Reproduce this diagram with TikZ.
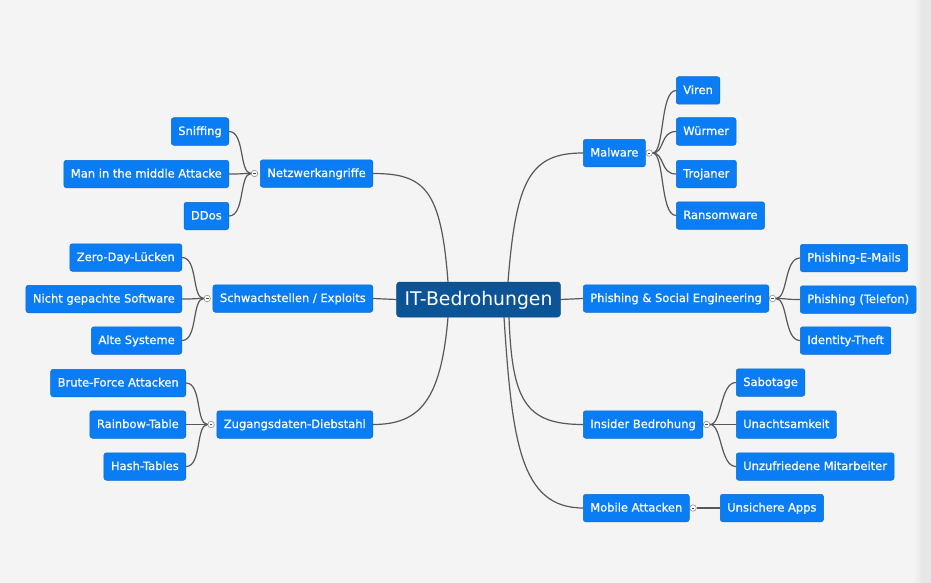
\documentclass[tikz,border=0pt]{standalone}
\usepackage{fontspec}
\setmainfont{DejaVu Sans}
\newfontfamily\topicfont{DejaVu Sans}[FakeBold=0.6]
\usetikzlibrary{positioning}
\definecolor{bgcol}{RGB}{244,244,244}
\definecolor{stripcol}{RGB}{231,231,231}
\definecolor{subblue}{RGB}{10,125,245}
\definecolor{rootblue}{RGB}{12,84,150}
\definecolor{linecol}{RGB}{88,88,88}

\begin{document}
\begin{tikzpicture}[x=1pt,y=-1pt,
  root/.style={rectangle,rounded corners=3pt,fill=rootblue,draw=rootblue!85!black,line width=0.5pt,text=white,minimum height=35pt,inner xsep=8pt,text height=13.7pt,text depth=2.5pt,font=\fontsize{18.8}{20}\selectfont},
  topic/.style={rectangle,rounded corners=2.5pt,fill=subblue,draw=subblue!85!black,line width=0.5pt,text=white,minimum height=27.5pt,inner xsep=7pt,text height=8.5pt,text depth=1.5pt,font=\topicfont\fontsize{11.5}{13}\selectfont},
  fold/.style={circle,draw=gray,fill=white,line width=0.5pt,minimum size=6.5pt,inner sep=0pt,path picture={\draw[line width=0.6pt,black!70] ([xshift=-1.3pt]path picture bounding box.center) -- ([xshift=1.3pt]path picture bounding box.center);}},
  link/.style={draw=linecol,line width=1.2pt}]

% background
\fill[bgcol] (0,0) rectangle (931,583);
\shade[left color=bgcol,right color=stripcol] (914,0) rectangle (922,583);
\fill[stripcol] (922,0) rectangle (931,583);

% draw central topic
\node[root] (root) at (478.5,299.5) {IT-Bedrohungen};

% draw main topics
\node[topic,anchor=west] (mal) at (583,153) {Malware};
\node[topic,anchor=west] (phi) at (583,298.5) {Phishing \& Social Engineering};
\node[topic,anchor=west] (ins) at (583,424.5) {Insider Bedrohung};
\node[topic,anchor=west] (mob) at (583,508) {Mobile Attacken};
\node[topic,anchor=east] (net) at (373,173.5) {Netzwerkangriffe};
\node[topic,anchor=east] (sch) at (373,298.5) {Schwachstellen / Exploits};
\node[topic,anchor=east] (zug) at (373,424.5) {Zugangsdaten-Diebstahl};

% draw fold markers
\node[fold,right=0pt of mal] (malf) {};
\node[fold,right=0pt of phi] (phif) {};
\node[fold,right=0pt of ins] (insf) {};
\node[fold,right=0pt of mob] (mobf) {};
\node[fold,left=2pt of net] (netf) {};
\node[fold,left=2pt of sch] (schf) {};
\node[fold,left=2pt of zug] (zugf) {};

% draw subtopics right
\foreach \t/\y [count=\i] in {Viren/90.5,Würmer/131.5,Trojaner/174,Ransomware/215.5}
{
  \node[topic,anchor=west] (mal\i) at (676,\y) {\t};
}
\foreach \t/\y [count=\i] in {Phishing-E-Mails/258,Phishing (Telefon)/299.5,Identity-Theft/340.5}
{
  \node[topic,anchor=west] (phi\i) at (800,\y) {\t};
}
\foreach \t/\y [count=\i] in {Sabotage/382.5,Unachtsamkeit/424.5,Unzufriedene Mitarbeiter/466.5}
{
  \node[topic,anchor=west] (ins\i) at (736,\y) {\t};
}
\node[topic,anchor=west] (mob1) at (720,508) {Unsichere Apps};

% draw subtopics left
\foreach \t/\y [count=\i] in {Sniffing/131.5,Man in the middle Attacke/174,DDos/216}
{
  \node[topic,anchor=east] (net\i) at (229,\y) {\t};
}
\foreach \t/\y [count=\i] in {Zero-Day-Lücken/257.5,Nicht gepachte Software/299,Alte Systeme/340.5}
{
  \node[topic,anchor=east] (sch\i) at (182,\y) {\t};
}
\foreach \t/\y [count=\i] in {Brute-Force Attacken/383,Rainbow-Table/424.5,Hash-Tables/466.5}
{
  \node[topic,anchor=east] (zug\i) at (186,\y) {\t};
}

% connect central topic to main topics
\draw[link] ([xshift=-30.5pt]root.north) .. controls +(-7,-92) and +(52,0) .. (net.east);
\draw[link] ([xshift=29.5pt]root.north) .. controls +(8,-102) and +(-53,0) .. (mal.west);
\draw[link] (root.west) -- (sch.east);
\draw[link] (root.east) -- (phi.west);
\draw[link] ([xshift=-30.5pt]root.south) .. controls +(-7,83) and +(47,0) .. (zug.east);
\draw[link] ([xshift=30.5pt]root.south) .. controls +(3,83) and +(-58,0) .. (ins.west);
\draw[link] ([xshift=25.5pt]root.south) .. controls +(8,123) and +(-63,0) .. (mob.west);

% connect main topics to subtopics
\foreach \i in {1,...,4}
{
  \draw[link] (malf.east) .. controls +(12,0) and +(-16,0) .. (mal\i.west);
}
\foreach \i in {1,2,3}
{
  \draw[link] (phif.east) .. controls +(12,0) and +(-16,0) .. (phi\i.west);
  \draw[link] (insf.east) .. controls +(12,0) and +(-16,0) .. (ins\i.west);
  \draw[link] (netf.west) .. controls +(-12,0) and +(16,0) .. (net\i.east);
  \draw[link] (schf.west) .. controls +(-12,0) and +(16,0) .. (sch\i.east);
  \draw[link] (zugf.west) .. controls +(-12,0) and +(16,0) .. (zug\i.east);
}
\draw[link] (mobf.east) -- (mob1.west);

\end{tikzpicture}
\end{document}
